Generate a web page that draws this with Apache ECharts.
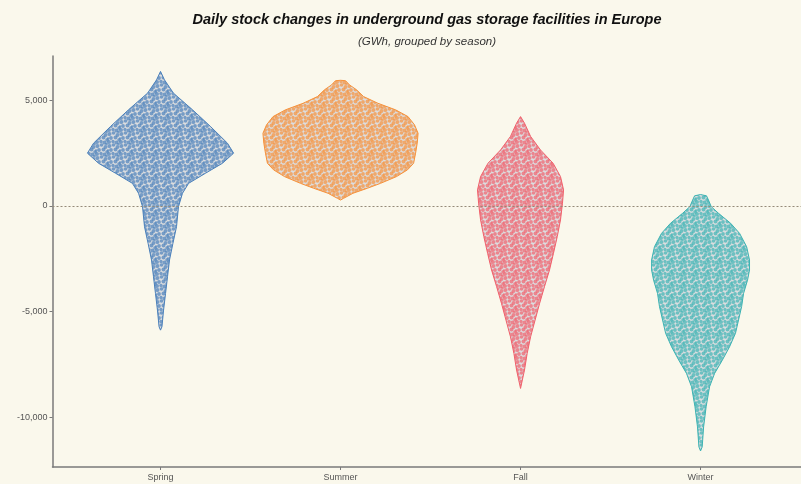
<!DOCTYPE html>
<html>
<head>
<meta charset="utf-8">
<script src="https://cdn.jsdelivr.net/npm/echarts@6/dist/echarts.min.js"></script>
<style>
html,body{margin:0;padding:0;background:#faf8ec;}
#chart{width:801px;height:484px;}
</style>
</head>
<body>
<div id="chart"></div>
<script>
const categories = ['Spring', 'Summer', 'Fall', 'Winter'];
const yTicks = [-10000, -5000, 0, 5000];

// violin outlines: value levels (GWh) and half-widths (in category units)
const springValues = [6370, 5970, 5340, 4550, 3760, 2970, 2500, 2020, 1550, 1070, 600, -30, -980, -1770, -2560, -3350, -4140, -4930, -5720, -5880];
const springWidths = [0, 0.022, 0.072, 0.178, 0.278, 0.372, 0.406, 0.344, 0.25, 0.156, 0.122, 0.1, 0.089, 0.069, 0.05, 0.039, 0.028, 0.017, 0.008, 0];

const summerValues = [5950, 5930, 5730, 5500, 5180, 4860, 4550, 4230, 3840, 3440, 2970, 2500, 2020, 1710, 1390, 1070, 840, 600, 360, 280];
const summerWidths = [0, 0.028, 0.05, 0.089, 0.128, 0.208, 0.306, 0.375, 0.411, 0.431, 0.426, 0.417, 0.406, 0.372, 0.311, 0.222, 0.15, 0.069, 0.017, 0];

const fallValues = [4230, 3920, 3290, 2650, 2020, 1390, 760, 130, -660, -1450, -2240, -3030, -3820, -4610, -5400, -6190, -6980, -7770, -8640];
const fallWidths = [0, 0.022, 0.056, 0.111, 0.181, 0.222, 0.239, 0.233, 0.222, 0.204, 0.183, 0.161, 0.133, 0.106, 0.081, 0.056, 0.037, 0.022, 0];

const winterValues = [540, 480, 280, -30, -350, -820, -1300, -1930, -2560, -3030, -3510, -4140, -4770, -5400, -6030, -6670, -7300, -7930, -8560, -9510, -10460, -11410, -11600];
const winterWidths = [0, 0.033, 0.044, 0.059, 0.1, 0.167, 0.217, 0.256, 0.272, 0.272, 0.261, 0.239, 0.228, 0.211, 0.194, 0.161, 0.121, 0.078, 0.05, 0.031, 0.017, 0.009, 0];

const seasonValues = [springValues, summerValues, fallValues, winterValues];
const seasonWidths = [springWidths, summerWidths, fallWidths, winterWidths];
const seasonColors = ['#4a80bb', '#f7923a', '#f1606b', '#3cb3b3'];

// texture tile for the jittered-point look (pure styling)
const dotTile = [[1.5, 2, 2.0], [5.5, 1, 1.8], [9.5, 3, 2.0], [3, 6, 1.9], [7.5, 5.5, 2.0], [11, 8, 1.8], [1, 10, 2.0], [5, 9.5, 1.7], [8.5, 10.5, 2.0], [10.5, 0, 1.3], [0, 6.5, 1.3]];

function makePattern(color) {
  const c = document.createElement('canvas');
  c.width = 12; c.height = 12;
  const ctx = c.getContext('2d');
  ctx.fillStyle = '#dcdddf';
  ctx.fillRect(0, 0, 12, 12);
  ctx.fillStyle = color;
  ctx.globalAlpha = 0.7;
  dotTile.forEach(function (d) {
    for (let dx = -12; dx <= 12; dx += 12) {
      for (let dy = -12; dy <= 12; dy += 12) {
        ctx.beginPath(); ctx.arc(d[0] + dx, d[1] + dy, d[2], 0, Math.PI * 2); ctx.fill();
      }
    }
  });
  return c;
}

const chart = echarts.init(document.getElementById('chart'), null, {renderer: 'canvas'});

const series = categories.map(function (name, ci) {
  const vals = seasonValues[ci], hws = seasonWidths[ci];
  const pattern = makePattern(seasonColors[ci]);
  return {
    type: 'custom',
    name: name,
    coordinateSystem: 'cartesian2d',
    data: [[ci + 1, 0]],
    renderItem: function (params, api) {
      const x0 = ci + 1;
      const pts = [];
      for (let i = 0; i < vals.length; i++) pts.push(api.coord([x0 + hws[i], vals[i]]));
      for (let i = vals.length - 1; i >= 0; i--) pts.push(api.coord([x0 - hws[i], vals[i]]));
      return {
        type: 'polygon',
        shape: {points: pts},
        style: {fill: {image: pattern, repeat: 'repeat'}, stroke: seasonColors[ci], lineWidth: 1}
      };
    },
    z: 2
  };
});

series.push({
  type: 'line',
  data: [],
  markLine: {
    silent: true,
    symbol: 'none',
    label: {show: false},
    lineStyle: {color: '#958a78', type: [2, 2], width: 1},
    data: [{yAxis: 0}]
  },
  z: 5
});

chart.setOption({
  backgroundColor: '#faf8ec',
  animation: false,
  graphic: [
    {type: 'text', x: 427, y: 20, style: {text: 'Daily stock changes in underground gas storage facilities in Europe', font: 'italic bold 14.5px "Liberation Sans", Arial, sans-serif', fill: '#111', align: 'center', verticalAlign: 'middle'}},
    {type: 'text', x: 427, y: 42, style: {text: '(GWh, grouped by season)', font: 'italic 11.5px "Liberation Sans", Arial, sans-serif', fill: '#333', align: 'center', verticalAlign: 'middle'}}
  ],
  grid: {left: 52.5, top: 56, right: 0, bottom: 17, containLabel: false},
  xAxis: {
    type: 'value', min: 0.4, max: 4.558,
    axisLine: {show: true, onZero: false, lineStyle: {color: '#7a7a7a', width: 1.5}},
    axisTick: {show: true, length: 3, customValues: [1, 2, 3, 4], lineStyle: {color: '#7a7a7a'}},
    axisLabel: {customValues: [1, 2, 3, 4], formatter: function (v) { return categories[Math.round(v) - 1] || ''; }, color: '#555', fontSize: 9, fontFamily: '"Liberation Sans", Arial, sans-serif', margin: 6},
    splitLine: {show: false}
  },
  yAxis: {
    type: 'value', min: -12360, max: 7100,
    axisLine: {show: true, onZero: false, lineStyle: {color: '#7a7a7a', width: 1.5}},
    axisTick: {show: true, length: 3, customValues: yTicks, lineStyle: {color: '#7a7a7a'}},
    axisLabel: {customValues: yTicks, formatter: function (v) { return v.toLocaleString('en-US'); }, color: '#555', fontSize: 9, fontFamily: '"Liberation Sans", Arial, sans-serif', margin: 5},
    splitLine: {show: false}
  },
  series: series
});
</script>
</body>
</html>
